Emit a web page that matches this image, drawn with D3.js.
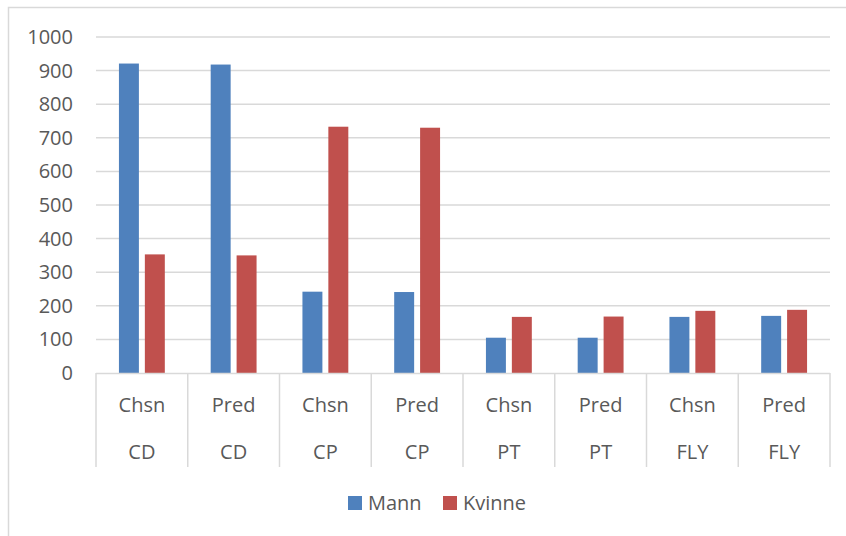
<!DOCTYPE html>
<html><head><meta charset="utf-8">
<script src="https://cdn.jsdelivr.net/npm/d3@7"></script>
<style>body{margin:0;background:#fff}svg{display:block}text{font-family:"Open Sans",sans-serif;fill:#595959}</style>
</head><body>
<script>
const methods = ["Chsn","Pred","Chsn","Pred","Chsn","Pred","Chsn","Pred"];
const groups = ["CD","CD","CP","CP","PT","PT","FLY","FLY"];
const seriesNames = ["Mann","Kvinne"];
const mann = [921, 918, 242, 241, 105, 105, 167, 170];
const kvinne = [353, 350, 733, 730, 167, 168, 185, 188];
const yTicks = [0,100,200,300,400,500,600,700,800,900,1000];
const colors = ["#4F81BD","#C0504D"];

(function(){
const W = 846, H = 536;
const svg = d3.select("body").append("svg").attr("width", W).attr("height", H);
svg.append("rect").attr("x",8.5).attr("y",7.5).attr("width",W).attr("height",H)
  .attr("fill","none").attr("stroke","#d9d9d9").attr("stroke-width",1.5);

const pL = 96, pR = 830, pT = 37, pB = 373;
const y = d3.scaleLinear().domain([0,1000]).range([pB, pT]);
const x = d3.scaleBand().domain(d3.range(methods.length)).range([pL, pR]).padding(0);
const bw = x.bandwidth();
const xi = d3.scaleBand().domain(seriesNames).range([bw*0.25, bw*0.75]).paddingInner(0.23).paddingOuter(0);

svg.append("g").selectAll("line").data(yTicks.filter(d=>d>0)).join("line")
  .attr("x1", pL).attr("x2", pR).attr("y1", d=>y(d)).attr("y2", d=>y(d))
  .attr("stroke","#d9d9d9").attr("stroke-width",1.5);

const yAxis = d3.axisLeft(y).tickValues(yTicks).tickFormat(d3.format("d")).tickSize(0).tickPadding(23);
const gy = svg.append("g").attr("transform",`translate(${pL},0)`).call(yAxis);
gy.select(".domain").remove();
gy.selectAll("text").style("font-size","20px").attr("fill","#595959").style("font-family","'Open Sans',sans-serif");

const data = methods.map((m,i)=>({i, vals:[mann[i], kvinne[i]]}));
const cat = svg.append("g").selectAll("g").data(data).join("g")
  .attr("transform", d=>`translate(${x(d.i)},0)`);
cat.selectAll("rect").data(d=>d.vals.map((v,k)=>({k,v}))).join("rect")
  .attr("x", d=>xi(seriesNames[d.k])).attr("width", xi.bandwidth())
  .attr("y", d=>y(d.v)).attr("height", d=>y(0)-y(d.v))
  .attr("fill", d=>colors[d.k]);

svg.append("line").attr("x1",pL).attr("x2",pR).attr("y1",pB+0.5).attr("y2",pB+0.5)
  .attr("stroke","#d9d9d9").attr("stroke-width",1.5);
const seps = d3.range(methods.length+1).map(i => i<methods.length ? x(i) : pR);
svg.append("g").selectAll("line").data(seps).join("line")
  .attr("x1",d=>d).attr("x2",d=>d).attr("y1",pB).attr("y2",467)
  .attr("stroke","#d9d9d9").attr("stroke-width",1.5);

svg.append("g").selectAll("text").data(methods).join("text")
  .attr("x",(d,i)=>x(i)+bw/2).attr("y",412).attr("text-anchor","middle")
  .style("font-size","20px").text(d=>d);
svg.append("g").selectAll("text").data(groups).join("text")
  .attr("x",(d,i)=>x(i)+bw/2).attr("y",459).attr("text-anchor","middle")
  .style("font-size","20px").text(d=>d);

const legX = [348, 443];
const lg = svg.append("g").selectAll("g").data(seriesNames).join("g")
  .attr("transform",(d,i)=>`translate(${legX[i]},496)`);
lg.append("rect").attr("width",14).attr("height",14).attr("fill",(d,i)=>colors[i]);
lg.append("text").attr("x",20).attr("y",14).style("font-size","20px").text(d=>d);
})();
</script>
</body></html>
